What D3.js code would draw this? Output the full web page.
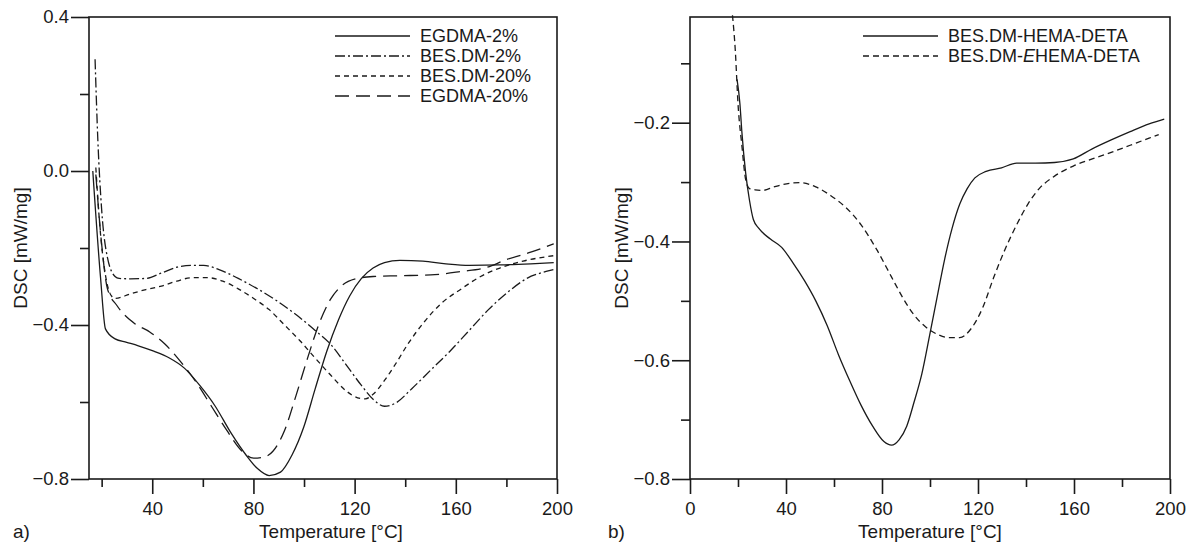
<!DOCTYPE html>
<html>
<head>
<meta charset="utf-8">
<script src="https://cdn.jsdelivr.net/npm/d3@7"></script>
<style>
  body { margin: 0; background: #fff; }
  svg text { font-family: "Liberation Sans", Arial, sans-serif; fill: #1a1a1a; }
</style>
</head>
<body>
<div id="chart"></div>
<script>
// panel a) DSC curves, [temperature °C, DSC mW/mg]
const egdma2 = [[16.5,0.0],[19.6,-0.28],[21.5,-0.41],[25.3,-0.436],[29.9,-0.445],[34.5,-0.454],[40.6,-0.468],
  [46.6,-0.485],[52.7,-0.512],[58.8,-0.557],[64.9,-0.611],[71,-0.679],[77,-0.737],[81.6,-0.773],[86.2,-0.791],
  [90.7,-0.782],[95.3,-0.737],[99.9,-0.665],[104.4,-0.566],[109,-0.468],[113.6,-0.387],[118.1,-0.324],
  [122.7,-0.279],[127.3,-0.252],[131.8,-0.238],[137.9,-0.232],[147,-0.234],[156.1,-0.241],[165.3,-0.245],
  [177.4,-0.244],[189.6,-0.241],[198.7,-0.238]];
const besdm2 = [[17.4,0.29],[18.5,0.08],[20,-0.1],[22.3,-0.225],[25.3,-0.274],[26.9,-0.279],[31.4,-0.28],
  [37.5,-0.279],[43.6,-0.265],[49.7,-0.25],[55.8,-0.245],[60.3,-0.245],[66.4,-0.256],[74,-0.279],[81.6,-0.306],
  [89.2,-0.337],[96.8,-0.373],[104.4,-0.414],[110.5,-0.45],[116.6,-0.503],[122.7,-0.557],[127.3,-0.593],
  [131.8,-0.611],[136.4,-0.602],[142.5,-0.566],[150.1,-0.517],[157.7,-0.468],[165.3,-0.414],[172.9,-0.36],
  [180.5,-0.315],[188.1,-0.279],[195.7,-0.261],[198.7,-0.256]];
const besdm20 = [[17.7,0.009],[19.3,-0.144],[21.5,-0.27],[23.8,-0.324],[25.3,-0.331],[31.4,-0.319],[37.5,-0.308],
  [43.6,-0.299],[49.7,-0.286],[55.8,-0.277],[61.8,-0.277],[67.9,-0.286],[74,-0.306],[80.1,-0.331],[86.2,-0.36],
  [92.3,-0.4],[98.4,-0.441],[104.4,-0.486],[110.5,-0.53],[116.6,-0.571],[121.2,-0.589],[124.2,-0.592],
  [127.3,-0.58],[131.8,-0.544],[136.4,-0.499],[141,-0.45],[147,-0.396],[154.6,-0.342],[162.2,-0.306],
  [169.8,-0.274],[177.4,-0.252],[186.6,-0.234],[198.7,-0.22]];
const egdma20 = [[17.7,-0.009],[20,-0.19],[22.3,-0.306],[26.1,-0.35],[33,-0.396],[39,-0.418],[45.1,-0.45],
  [51.2,-0.495],[57.3,-0.548],[63.4,-0.611],[69.5,-0.674],[75.5,-0.728],[80.1,-0.746],[84.7,-0.742],
  [87.7,-0.728],[92.3,-0.674],[96.8,-0.584],[101.4,-0.486],[106,-0.396],[110.5,-0.333],[115.1,-0.297],
  [121.2,-0.279],[127.3,-0.274],[137.9,-0.272],[150.1,-0.27],[162.2,-0.261],[171.4,-0.252],[180.5,-0.229],
  [189.6,-0.211],[198.7,-0.189]];

// panel b)
const hemaDeta = [[19.6,-0.127],[20.8,-0.168],[21.6,-0.215],[23.2,-0.285],[24.8,-0.331],[26.4,-0.363],
  [28.7,-0.378],[33.5,-0.396],[38.2,-0.41],[42.9,-0.436],[47.7,-0.466],[52.4,-0.5],[57.1,-0.541],[61.9,-0.591],
  [66.6,-0.635],[71.3,-0.676],[76.1,-0.711],[80.8,-0.737],[84,-0.743],[87.1,-0.734],[90.3,-0.711],[93.4,-0.67],
  [96.6,-0.623],[99.8,-0.559],[102.9,-0.495],[106.1,-0.43],[109.2,-0.378],[112.4,-0.337],[115.5,-0.311],
  [118.7,-0.293],[123.4,-0.282],[129.8,-0.276],[136.1,-0.268],[144,-0.268],[151.9,-0.267],[159.7,-0.261],
  [167.6,-0.244],[175.5,-0.229],[183.4,-0.215],[191.3,-0.202],[197.6,-0.194]];
const eHemaDeta = [[17.7,-0.019],[18.9,-0.08],[20,-0.168],[21.6,-0.238],[23.2,-0.296],[24.8,-0.311],
  [27.1,-0.313],[30.3,-0.314],[35,-0.308],[41.4,-0.302],[46.1,-0.301],[52.4,-0.308],[58.7,-0.323],[65,-0.343],
  [71.3,-0.372],[77.7,-0.413],[84,-0.46],[88.7,-0.495],[93.4,-0.524],[98.2,-0.544],[102.9,-0.556],
  [107.7,-0.562],[112.4,-0.562],[117.1,-0.547],[121.9,-0.512],[126.6,-0.46],[131.3,-0.413],[136.1,-0.372],
  [140.8,-0.337],[145.5,-0.311],[151.9,-0.29],[159.7,-0.273],[167.6,-0.261],[175.5,-0.25],[183.4,-0.238],
  [191.3,-0.226],[195.3,-0.22]];

const legendA = ["EGDMA-2%", "BES.DM-2%", "BES.DM-20%", "EGDMA-20%"];
const legendB = ["BES.DM-HEMA-DETA", "BES.DM-EHEMA-DETA"];

const xMajorA = [40, 80, 120, 160, 200], xMajorB = [0, 40, 80, 120, 160, 200];
const xMinor = [20, 60, 100, 140, 180];
const yMajorA = [0.4, 0.0, -0.4, -0.8], yMinorA = [0.2, -0.2, -0.6];
const yMajorB = [-0.2, -0.4, -0.6, -0.8], yMinorB = [-0.1, -0.3, -0.5, -0.7];

const width = 1191, height = 544;
const svg = d3.select("#chart").append("svg")
    .attr("width", width)
    .attr("height", height);

const fmt = d3.format(".1f");

function drawPanel(p) {
    const x = d3.scaleLinear().domain(p.xDomain).range([p.left, p.right]);
    const y = d3.scaleLinear().domain(p.yDomain).range([p.bottom, p.top]);
    const g = svg.append("g");

    // minor + major ticks
    g.append("g").attr("transform", `translate(0,${p.bottom})`)
        .call(d3.axisBottom(x).tickValues(xMinor).tickSize(8).tickFormat(""));
    g.append("g").attr("transform", `translate(0,${p.bottom})`)
        .call(d3.axisBottom(x).tickValues(p.xMajor).tickSize(15).tickPadding(8).tickFormat(d3.format("d")));
    g.append("g").attr("transform", `translate(${p.left},0)`)
        .call(d3.axisLeft(y).tickValues(p.yMinor).tickSize(9).tickFormat(""));
    g.append("g").attr("transform", `translate(${p.left},0)`)
        .call(d3.axisLeft(y).tickValues(p.yMajor).tickSize(18).tickPadding(2).tickFormat(fmt));

    g.selectAll(".domain").remove();
    g.selectAll(".tick line").attr("stroke", "#1a1a1a").attr("stroke-width", 1.6);
    g.selectAll(".tick text").attr("font-size", 18.5).attr("fill", "#1a1a1a");

    g.append("rect")
        .attr("x", p.left).attr("y", p.top)
        .attr("width", p.right - p.left).attr("height", p.bottom - p.top)
        .attr("fill", "none").attr("stroke", "#1a1a1a").attr("stroke-width", 1.6);

    const line = d3.line()
        .x(d => x(d[0]))
        .y(d => y(d[1]))
        .curve(d3.curveMonotoneX);

    p.series.forEach(s => {
        g.append("path")
            .datum(s.data)
            .attr("d", line)
            .attr("fill", "none")
            .attr("stroke", "#1a1a1a")
            .attr("stroke-width", 1.3)
            .attr("stroke-dasharray", s.dash);
    });

    // legend
    p.series.forEach((s, i) => {
        const ly = p.legendY + i * p.legendStep;
        g.append("line")
            .attr("x1", p.legendX).attr("x2", p.legendX + 75)
            .attr("y1", ly).attr("y2", ly)
            .attr("stroke", "#1a1a1a").attr("stroke-width", 1.3)
            .attr("stroke-dasharray", s.dash);
        const t = g.append("text")
            .attr("x", p.legendX + 85).attr("y", ly).attr("dy", "0.36em")
            .attr("font-size", 18);
        if (s.label.indexOf("EHEMA") >= 0) {
            t.append("tspan").text("BES.DM-");
            t.append("tspan").attr("font-style", "italic").text("E");
            t.append("tspan").text("HEMA-DETA");
        } else {
            t.text(s.label);
        }
    });

    g.append("text")
        .attr("x", p.titleX).attr("y", 538)
        .attr("text-anchor", "middle").attr("font-size", 19)
        .text("Temperature [°C]");
    g.append("text")
        .attr("transform", `translate(${p.left - 62},${(p.top + p.bottom) / 2}) rotate(-90)`)
        .attr("text-anchor", "middle").attr("font-size", 19)
        .text("DSC [mW/mg]");
    g.append("text")
        .attr("x", p.tagX).attr("y", 538)
        .attr("font-size", 19)
        .text(p.tag);
}

drawPanel({
    left: 89, right: 557, top: 17, bottom: 479,
    xDomain: [15, 200], yDomain: [-0.8, 0.4],
    xMajor: xMajorA, yMajor: yMajorA, yMinor: yMinorA,
    legendX: 335, legendY: 36, legendStep: 20, tagX: 13, tag: "a)", titleX: 331,
    series: [
        { data: egdma2, label: legendA[0], dash: null },
        { data: besdm2, label: legendA[1], dash: "10,3,2,3" },
        { data: besdm20, label: legendA[2], dash: "5,4" },
        { data: egdma20, label: legendA[3], dash: "14,7" }
    ]
});

drawPanel({
    left: 690, right: 1170, top: 17, bottom: 479,
    xDomain: [0, 200], yDomain: [-0.8, -0.022],
    xMajor: xMajorB, yMajor: yMajorB, yMinor: yMinorB,
    legendX: 863, legendY: 36, legendStep: 20, tagX: 608, tag: "b)", titleX: 930,
    series: [
        { data: hemaDeta, label: legendB[0], dash: null },
        { data: eHemaDeta, label: legendB[1], dash: "6,4" }
    ]
});
</script>
</body>
</html>
